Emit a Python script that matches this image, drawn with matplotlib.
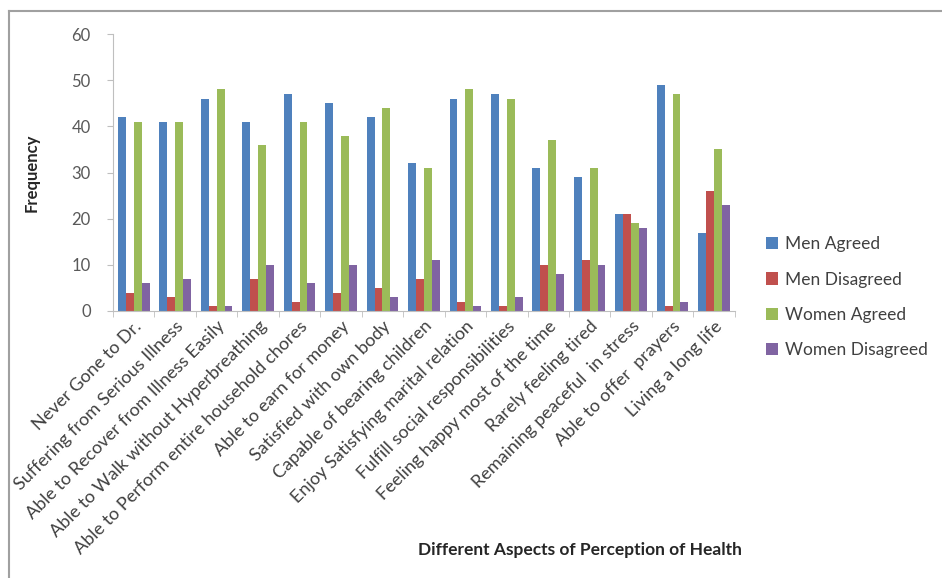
import numpy as np
import matplotlib
matplotlib.use("Agg")
from matplotlib import pyplot as plt
from matplotlib.lines import Line2D

plt.rcParams['font.family'] = ['Lato', 'DejaVu Sans']

categories = [
    "Never Gone to Dr.",
    "Suffering from Serious Illness",
    "Able to Recover from Illness Easily",
    "Able to Walk without Hyperbreathing",
    "Able to Perform entire household chores",
    "Able to earn for money",
    "Satisfied with own body",
    "Capable of bearing children",
    "Enjoy Satisfying marital relation",
    "Fulfill social responsibilities",
    "Feeling happy most of the time",
    "Rarely feeling tired",
    "Remaining peaceful  in stress",
    "Able to offer  prayers",
    "Living a long life",
]
men_agreed = [42, 41, 46, 41, 47, 45, 42, 32, 46, 47, 31, 29, 21, 49, 17]
men_disagreed = [4, 3, 1, 7, 2, 4, 5, 7, 2, 1, 10, 11, 21, 1, 26]
women_agreed = [41, 41, 48, 36, 41, 38, 44, 31, 48, 46, 37, 31, 19, 47, 35]
women_disagreed = [6, 7, 1, 10, 6, 10, 3, 11, 1, 3, 8, 10, 18, 2, 23]

series = [
    ("Men Agreed", men_agreed, "#4F81BD"),
    ("Men Disagreed", men_disagreed, "#C0504D"),
    ("Women Agreed", women_agreed, "#9BBB59"),
    ("Women Disagreed", women_disagreed, "#8064A2"),
]

fig = plt.figure(figsize=(9.42, 5.78), dpi=100)
ax = fig.add_axes([0.120, 0.462, 0.660, 0.479])

x = np.arange(len(categories))
w = 0.19
for i, (name, vals, col) in enumerate(series):
    ax.bar(x + (i - 1.5) * w, vals, w, color=col, label=name, edgecolor='none')

ax.set_xlim(-0.5, len(categories) - 0.5)
ax.set_ylim(0, 60)
ax.set_yticks(range(0, 61, 10))
ax.tick_params(axis='y', colors='#595959', labelsize=12, length=4, color='#BFBFBF', pad=12)
ax.set_xticks(x)
ax.set_xticklabels(categories, rotation=45, ha='right', rotation_mode='anchor',
                   fontsize=13, color='#404040')
ax.set_xticks(np.arange(-0.5, len(categories)), minor=True)
ax.tick_params(axis='x', which='major', length=0, pad=5)
ax.tick_params(axis='x', which='minor', length=4, color='#BFBFBF')
for s in ['top', 'right']:
    ax.spines[s].set_visible(False)
ax.spines['left'].set_color('#BFBFBF')
ax.spines['bottom'].set_color('#BFBFBF')

ax.set_ylabel("Frequency", fontsize=12, fontweight='bold', color='#262626', labelpad=23)
fig.text(0.616, 0.040, "Different Aspects of Perception of Health", ha='center',
         fontsize=12.5, fontweight='bold', color='#262626')

ax.legend(loc='center left', bbox_to_anchor=(1.025, 0.05), frameon=False,
          fontsize=12.5, labelcolor='#404040', handlelength=0.7, handleheight=0.7,
          labelspacing=1.1, handletextpad=0.4)

# chart border
fig.add_artist(Line2D([9 / 942, 1], [1 - 11 / 578, 1 - 11 / 578], color='#A0A0A0', lw=1.5,
                      transform=fig.transFigure))
fig.add_artist(Line2D([9 / 942, 9 / 942], [0, 1 - 11 / 578], color='#A0A0A0', lw=1.5,
                      transform=fig.transFigure))

fig.savefig("out.png", dpi=100)
